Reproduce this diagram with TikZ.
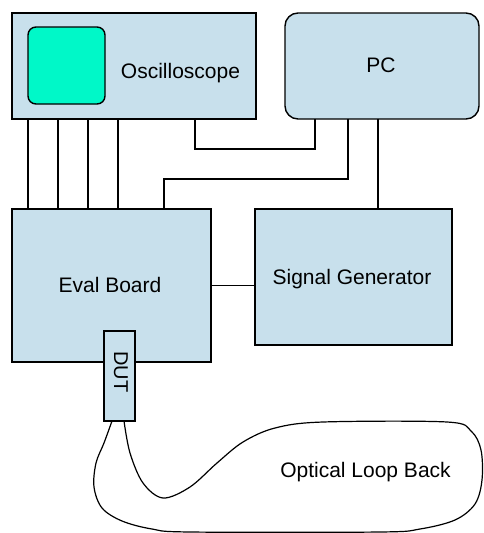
\documentclass[tikz,border=0pt]{standalone}
\usepackage{fontspec}
\setmainfont{Liberation Sans}
\begin{document}
\begin{tikzpicture}[x=1pt,y=-1pt,
  boxfill/.style={draw=black, line width=1.4pt, fill=boxblue, inner sep=0pt, outer sep=0pt, anchor=north west},
  wire/.style={draw=black, line width=1.2pt},
  lbl/.style={font=\fontsize{21}{25}\selectfont, inner sep=0pt, anchor=base, text=black}]
\definecolor{boxblue}{RGB}{200,224,236}
\definecolor{screengreen}{RGB}{0,248,200}
\useasboundingbox[fill=white] (0,0) rectangle (484,533);
% boxes
\node[boxfill, minimum width=244pt, minimum height=106pt] (osc) at (12,13) {};
\node[boxfill, rounded corners=13pt, minimum width=194pt, minimum height=106pt] (pc) at (285,13) {};
\node[boxfill, minimum width=199pt, minimum height=153pt] (eval) at (12,209) {};
\node[boxfill, minimum width=197pt, minimum height=136pt] (sig) at (255,209) {};
\node[boxfill, fill=screengreen, rounded corners=8pt, minimum width=77pt, minimum height=77pt] (screen) at (28,27) {};
\node[boxfill, minimum width=31pt, minimum height=90pt] (dut) at (104,331) {};
% labels
\node[lbl] (osclbl) at (180.5,78) {Oscilloscope};
\node[lbl] (pclbl) at (381,72) {PC};
\node[lbl] (evallbl) at (110,292) {Eval Board};
\node[lbl] (siglbl) at (352,284) {Signal Generator};
\node[lbl] (looplbl) at (365.5,477) {Optical Loop Back};
\node[lbl, anchor=center, rotate=-90, font=\fontsize{20}{24}\selectfont] (dutlbl) at (121,372) {DUT};
% probe wires
\foreach \dx in {16,46,76,106}
  \draw[wire] ([xshift=\dx pt]osc.south west) -- ([xshift=\dx pt]eval.north west);
% oscilloscope to PC
\draw[wire] ([xshift=183pt]osc.south west) -- ++(0,30) -| ([xshift=30pt]pc.south west);
% PC to eval board
\draw[wire] ([xshift=63pt]pc.south west) -- ++(0,60) -| ([xshift=152pt]eval.north west);
% PC to signal generator
\draw[wire] ([xshift=93pt]pc.south west) coordinate (pcs) -- (pcs |- sig.north);
% eval board to signal generator
\draw[wire] (eval.east) -- (eval.east -| sig.west);
% optical loop back
\coordinate (loopa) at ([xshift=4.5pt]dut.south);
\coordinate (loopb) at ([xshift=-7.5pt]dut.south);
\draw[wire] plot[smooth, tension=0.55] coordinates {
  (loopa) (130,453) (143,483) (163,498) (190,487) (217,463) (243,442) (275,428)
  (323,422) (447,422) (471,431) (481,450) (482,480) (475,504) (455,520)
  (420,529) (380,532) (190,532) (152,529) (122,521) (102,508) (94,487)
  (96,463) (104,443) (loopb)};
\end{tikzpicture}
\end{document}
